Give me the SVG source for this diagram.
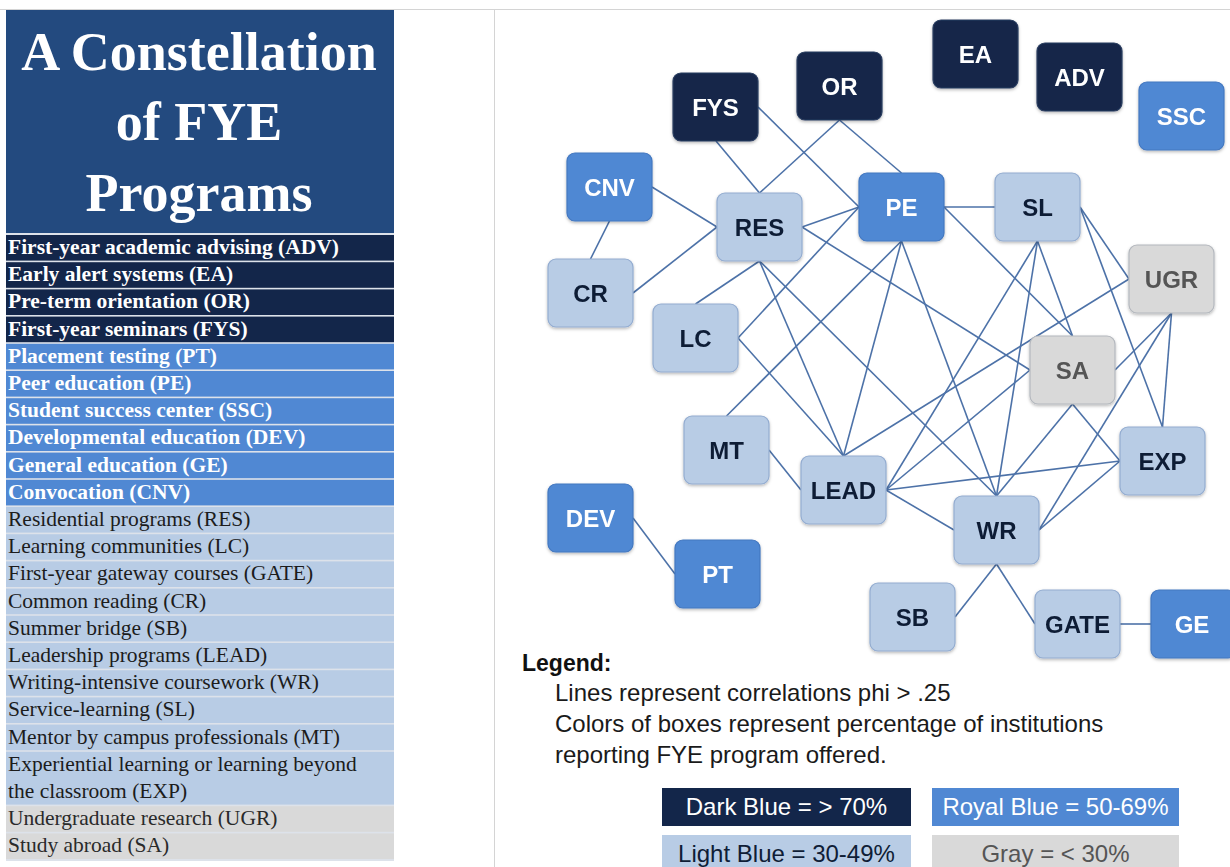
<svg xmlns="http://www.w3.org/2000/svg" width="1230" height="867" viewBox="0 0 1230 867">
  <style>
    .title { font-family: "Liberation Serif", "Times New Roman", serif; font-weight: bold; font-size: 54px; fill: #ffffff; text-anchor: middle; }
    .row-b { font-family: "Liberation Serif", "Times New Roman", serif; font-weight: bold; font-size: 21.5px; fill: #ffffff; }
    .row-r { font-family: "Liberation Serif", "Times New Roman", serif; font-size: 21.5px; fill: #1c1c1c; }
    .row-g { font-family: "Liberation Serif", "Times New Roman", serif; font-size: 21.5px; fill: #2a2a2a; }
    .dark { fill: #13264a; }
    .royal { fill: #5088d3; }
    .light { fill: #b8cce5; }
    .gray { fill: #d9d9d9; }
    .node rect { stroke-width: 1.2; }
    .node.d rect { fill: #13264a; stroke: #2b3e60; }
    .node.r rect { fill: #5088d3; stroke: #4378c0; }
    .node.l rect { fill: #b8cce5; stroke: #93acd0; }
    .node.g rect { fill: #d9d9d9; stroke: #b4b8be; }
    .node text { font-family: "Liberation Sans", Arial, sans-serif; font-weight: bold; font-size: 24px; text-anchor: middle; }
    .node.d text, .node.r text { fill: #ffffff; }
    .node.l text { fill: #0f1d36; }
    .node.g text { fill: #555555; }
    .edges line { stroke: #4d72a8; stroke-width: 1.6; }
    .legend { font-family: "Liberation Sans", Arial, sans-serif; font-size: 24px; fill: #1a1a1a; }
    .legend-h { font-family: "Liberation Sans", Arial, sans-serif; font-size: 23px; font-weight: bold; fill: #111111; }
    .key text { font-family: "Liberation Sans", Arial, sans-serif; font-size: 24px; text-anchor: middle; }
  </style>
  <defs>
    <filter id="shadow" x="-20%" y="-20%" width="140%" height="150%">
      <feDropShadow dx="0" dy="1.5" stdDeviation="1.5" flood-color="#000000" flood-opacity="0.28"/>
    </filter>
  </defs>

  <rect x="0" y="0" width="1230" height="867" fill="#ffffff"/>

  <!-- panel frame lines -->
  <line x1="0" y1="9.5" x2="1230" y2="9.5" stroke="#d4d4d4" stroke-width="1"/>
  <line x1="494.5" y1="9.5" x2="494.5" y2="867" stroke="#d4d4d4" stroke-width="1"/>

  <!-- title block -->
  <g id="title">
    <rect x="6" y="10" width="388" height="223" fill="#234a7f"/>
    <text class="title" x="199" y="70">A Constellation</text>
    <text class="title" x="199" y="140">of FYE</text>
    <text class="title" x="199" y="211">Programs</text>
  </g>

  <!-- program list -->
  <g id="program-list">
    <rect x="6" y="233" width="388" height="628" fill="#dde2ea"/>
    <rect class="dark" x="6" y="235" width="388" height="25.6"/>
    <text class="row-b" x="8" y="254">First-year academic advising (ADV)</text>
    <rect class="dark" x="6" y="262.2" width="388" height="25.6"/>
    <text class="row-b" x="8" y="281.2">Early alert systems (EA)</text>
    <rect class="dark" x="6" y="289.4" width="388" height="25.6"/>
    <text class="row-b" x="8" y="308.4">Pre-term orientation (OR)</text>
    <rect class="dark" x="6" y="316.6" width="388" height="25.6"/>
    <text class="row-b" x="8" y="335.6">First-year seminars (FYS)</text>
    <rect class="royal" x="6" y="343.8" width="388" height="25.6"/>
    <text class="row-b" x="8" y="362.8">Placement testing (PT)</text>
    <rect class="royal" x="6" y="371" width="388" height="25.6"/>
    <text class="row-b" x="8" y="390">Peer education (PE)</text>
    <rect class="royal" x="6" y="398.2" width="388" height="25.6"/>
    <text class="row-b" x="8" y="417.2">Student success center (SSC)</text>
    <rect class="royal" x="6" y="425.4" width="388" height="25.6"/>
    <text class="row-b" x="8" y="444.4">Developmental education (DEV)</text>
    <rect class="royal" x="6" y="452.6" width="388" height="25.6"/>
    <text class="row-b" x="8" y="471.6">General education (GE)</text>
    <rect class="royal" x="6" y="479.8" width="388" height="25.6"/>
    <text class="row-b" x="8" y="498.8">Convocation (CNV)</text>
    <rect class="light" x="6" y="507" width="388" height="25.6"/>
    <text class="row-r" x="8" y="526">Residential programs (RES)</text>
    <rect class="light" x="6" y="534.2" width="388" height="25.6"/>
    <text class="row-r" x="8" y="553.2">Learning communities (LC)</text>
    <rect class="light" x="6" y="561.4" width="388" height="25.6"/>
    <text class="row-r" x="8" y="580.4">First-year gateway courses (GATE)</text>
    <rect class="light" x="6" y="588.6" width="388" height="25.6"/>
    <text class="row-r" x="8" y="607.6">Common reading (CR)</text>
    <rect class="light" x="6" y="615.8" width="388" height="25.6"/>
    <text class="row-r" x="8" y="634.8">Summer bridge (SB)</text>
    <rect class="light" x="6" y="643" width="388" height="25.6"/>
    <text class="row-r" x="8" y="662">Leadership programs (LEAD)</text>
    <rect class="light" x="6" y="670.2" width="388" height="25.6"/>
    <text class="row-r" x="8" y="689.2">Writing-intensive coursework (WR)</text>
    <rect class="light" x="6" y="697.4" width="388" height="25.6"/>
    <text class="row-r" x="8" y="716.4">Service-learning (SL)</text>
    <rect class="light" x="6" y="724.6" width="388" height="25.6"/>
    <text class="row-r" x="8" y="743.6">Mentor by campus professionals (MT)</text>
    <rect class="light" x="6" y="751.8" width="388" height="52.8"/>
    <text class="row-r" x="8" y="770.8">Experiential learning or learning beyond</text>
    <text class="row-r" x="8" y="797.6">the classroom (EXP)</text>
    <rect class="gray" x="6" y="806.2" width="388" height="25.6"/>
    <text class="row-g" x="8" y="825.2">Undergraduate research (UGR)</text>
    <rect class="gray" x="6" y="833.4" width="388" height="25.6"/>
    <text class="row-g" x="8" y="852.4">Study abroad (SA)</text>
  </g>

  <!-- correlation lines -->
  <g id="connectors" class="edges">
    <line x1="716" y1="141" x2="759.5" y2="193"/>
    <line x1="758" y1="107" x2="859" y2="207"/>
    <line x1="839.5" y1="120" x2="759.5" y2="193"/>
    <line x1="839.5" y1="120" x2="901.5" y2="173"/>
    <line x1="652" y1="187" x2="717" y2="227"/>
    <line x1="609.5" y1="221" x2="590.5" y2="259"/>
    <line x1="633" y1="293" x2="717" y2="227"/>
    <line x1="802" y1="227" x2="859" y2="207"/>
    <line x1="759.5" y1="261" x2="695.5" y2="304"/>
    <line x1="759.5" y1="261" x2="843.5" y2="456"/>
    <line x1="759.5" y1="261" x2="996.5" y2="496"/>
    <line x1="802" y1="227" x2="1030" y2="370"/>
    <line x1="944" y1="207" x2="995" y2="207"/>
    <line x1="859" y1="207" x2="738" y2="338"/>
    <line x1="901.5" y1="241" x2="726.5" y2="416"/>
    <line x1="901.5" y1="241" x2="843.5" y2="456"/>
    <line x1="901.5" y1="241" x2="996.5" y2="496"/>
    <line x1="944" y1="207" x2="1072.5" y2="336"/>
    <line x1="1037.5" y1="241" x2="1072.5" y2="336"/>
    <line x1="1037.5" y1="241" x2="886" y2="490"/>
    <line x1="1037.5" y1="241" x2="996.5" y2="496"/>
    <line x1="1080" y1="207" x2="1129" y2="279"/>
    <line x1="1080" y1="207" x2="1162.5" y2="427"/>
    <line x1="1129" y1="279" x2="843.5" y2="456"/>
    <line x1="1171.5" y1="313" x2="1115" y2="370"/>
    <line x1="1171.5" y1="313" x2="1039" y2="530"/>
    <line x1="1171.5" y1="313" x2="1162.5" y2="427"/>
    <line x1="738" y1="338" x2="843.5" y2="456"/>
    <line x1="769" y1="450" x2="801" y2="490"/>
    <line x1="1030" y1="370" x2="886" y2="490"/>
    <line x1="1072.5" y1="404" x2="996.5" y2="496"/>
    <line x1="1072.5" y1="404" x2="1120" y2="461"/>
    <line x1="886" y1="490" x2="1120" y2="461"/>
    <line x1="886" y1="490" x2="954" y2="530"/>
    <line x1="1039" y1="530" x2="1120" y2="461"/>
    <line x1="996.5" y1="564" x2="955" y2="617"/>
    <line x1="996.5" y1="564" x2="1035" y2="624"/>
    <line x1="1120" y1="624" x2="1151" y2="624"/>
    <line x1="633" y1="518" x2="675" y2="574"/>
  </g>

  <!-- program nodes -->
  <g id="node-FYS" class="node d" filter="url(#shadow)"><rect x="673" y="73" width="85" height="68" rx="8"/><text x="715.5" y="115.5">FYS</text></g>
  <g id="node-OR" class="node d" filter="url(#shadow)"><rect x="797" y="52" width="85" height="68" rx="8"/><text x="839.5" y="94.5">OR</text></g>
  <g id="node-EA" class="node d" filter="url(#shadow)"><rect x="933" y="20" width="85" height="68" rx="8"/><text x="975.5" y="62.5">EA</text></g>
  <g id="node-ADV" class="node d" filter="url(#shadow)"><rect x="1037" y="43" width="85" height="68" rx="8"/><text x="1079.5" y="85.5">ADV</text></g>
  <g id="node-SSC" class="node r" filter="url(#shadow)"><rect x="1139" y="82" width="85" height="68" rx="8"/><text x="1181.5" y="124.5">SSC</text></g>
  <g id="node-CNV" class="node r" filter="url(#shadow)"><rect x="567" y="153" width="85" height="68" rx="8"/><text x="609.5" y="195.5">CNV</text></g>
  <g id="node-RES" class="node l" filter="url(#shadow)"><rect x="717" y="193" width="85" height="68" rx="8"/><text x="759.5" y="235.5">RES</text></g>
  <g id="node-PE" class="node r" filter="url(#shadow)"><rect x="859" y="173" width="85" height="68" rx="8"/><text x="901.5" y="215.5">PE</text></g>
  <g id="node-SL" class="node l" filter="url(#shadow)"><rect x="995" y="173" width="85" height="68" rx="8"/><text x="1037.5" y="215.5">SL</text></g>
  <g id="node-UGR" class="node g" filter="url(#shadow)"><rect x="1129" y="245" width="85" height="68" rx="8"/><text x="1171.5" y="287.5">UGR</text></g>
  <g id="node-CR" class="node l" filter="url(#shadow)"><rect x="548" y="259" width="85" height="68" rx="8"/><text x="590.5" y="301.5">CR</text></g>
  <g id="node-LC" class="node l" filter="url(#shadow)"><rect x="653" y="304" width="85" height="68" rx="8"/><text x="695.5" y="346.5">LC</text></g>
  <g id="node-SA" class="node g" filter="url(#shadow)"><rect x="1030" y="336" width="85" height="68" rx="8"/><text x="1072.5" y="378.5">SA</text></g>
  <g id="node-MT" class="node l" filter="url(#shadow)"><rect x="684" y="416" width="85" height="68" rx="8"/><text x="726.5" y="458.5">MT</text></g>
  <g id="node-EXP" class="node l" filter="url(#shadow)"><rect x="1120" y="427" width="85" height="68" rx="8"/><text x="1162.5" y="469.5">EXP</text></g>
  <g id="node-LEAD" class="node l" filter="url(#shadow)"><rect x="801" y="456" width="85" height="68" rx="8"/><text x="843.5" y="498.5">LEAD</text></g>
  <g id="node-DEV" class="node r" filter="url(#shadow)"><rect x="548" y="484" width="85" height="68" rx="8"/><text x="590.5" y="526.5">DEV</text></g>
  <g id="node-WR" class="node l" filter="url(#shadow)"><rect x="954" y="496" width="85" height="68" rx="8"/><text x="996.5" y="538.5">WR</text></g>
  <g id="node-PT" class="node r" filter="url(#shadow)"><rect x="675" y="540" width="85" height="68" rx="8"/><text x="717.5" y="582.5">PT</text></g>
  <g id="node-SB" class="node l" filter="url(#shadow)"><rect x="870" y="583" width="85" height="68" rx="8"/><text x="912.5" y="625.5">SB</text></g>
  <g id="node-GATE" class="node l" filter="url(#shadow)"><rect x="1035" y="590" width="85" height="68" rx="8"/><text x="1077.5" y="632.5">GATE</text></g>
  <g id="node-GE" class="node r" filter="url(#shadow)"><rect x="1151" y="590" width="85" height="68" rx="8"/><text x="1192" y="632.5">GE</text></g>

  <!-- legend -->
  <g id="legend">
    <text class="legend-h" x="522" y="671">Legend:</text>
    <text class="legend" x="555" y="701">Lines represent correlations phi &gt; .25</text>
    <text class="legend" x="555" y="732">Colors of boxes represent percentage of institutions</text>
    <text class="legend" x="555" y="763">reporting FYE program offered.</text>
    <g class="key">
      <rect x="662" y="788" width="249" height="38" fill="#13264a"/>
      <text x="786.5" y="815" fill="#ffffff">Dark Blue = &gt; 70%</text>
      <rect x="932" y="788" width="247" height="38" fill="#5088d3"/>
      <text x="1055.5" y="815" fill="#ffffff">Royal Blue = 50-69%</text>
      <rect x="662" y="835" width="249" height="38" fill="#b8cce5"/>
      <text x="786.5" y="862" fill="#0f1d36">Light Blue = 30-49%</text>
      <rect x="932" y="835" width="247" height="38" fill="#d9d9d9"/>
      <text x="1055.5" y="862" fill="#555555">Gray = &lt; 30%</text>
    </g>
  </g>
</svg>
